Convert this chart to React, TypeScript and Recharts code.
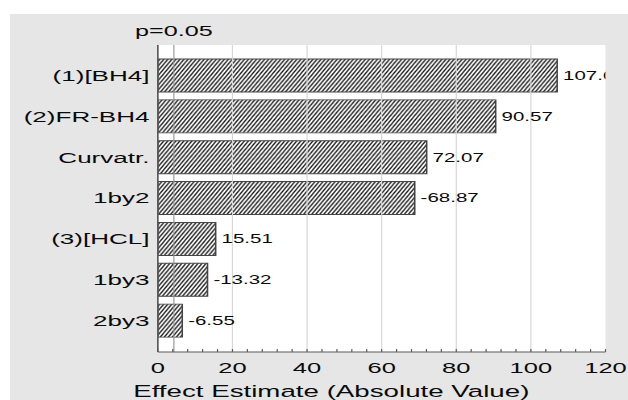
import React from 'react';
import {
  BarChart,
  Bar,
  XAxis,
  YAxis,
  ReferenceLine,
  CartesianGrid,
  LabelList,
  Label,
} from 'recharts';

// ---- data ----
const factors = ['(1)[BH4]', '(2)FR-BH4', 'Curvatr.', '1by2', '(3)[HCL]', '1by3', '2by3'];
const effects = [107.05, 90.57, 72.07, -68.87, 15.51, -13.32, -6.55];
const minorTicks = [0, 4, 8, 12, 16, 20, 24, 28, 32, 36, 40, 44, 48, 52, 56, 60, 64, 68, 72, 76, 80, 84, 88, 92, 96, 100, 104, 108, 112, 116, 120];
const gridValues = [20, 40, 60, 80, 100];
const frameTicks = [0, 1, 2, 3, 4, 5, 6, 7, 8, 9, 10, 11, 12, 13, 14];
const critValue = 4.303;
const critLabel = 'p=0.05';
const xTitle = 'Effect Estimate (Absolute Value)';

const data = factors.map((f, i) => ({ factor: f, abs: Math.abs(effects[i]), effect: effects[i] }));

// ---- layout ----
const S = 628 / 374; // horizontal stretch of the original picture
const W = 374;
const H = 400;
const MARGIN = { top: 45, right: 13.4, bottom: 0, left: 0 };
const Y_W = 94;
const X_H = 48;
const TICK_MARGIN = 10;
const PLOT = { x: MARGIN.left + Y_W, y: MARGIN.top, w: W - MARGIN.right - MARGIN.left - Y_W, h: H - MARGIN.top - MARGIN.bottom - X_H };

const FRAME = '#5a5a5a';
const INK = '#0a0a0a';

const renderXTick = (props: any) => {
  const { x, y, payload } = props;
  const v = payload.value;
  const axisY = y - TICK_MARGIN;
  return (
    <g>
      <line x1={x} x2={x} y1={axisY} y2={axisY - 3} stroke={FRAME} strokeWidth={0.7} />
      {v % 20 === 0 && (
        <text x={x} y={y} dy="0.71em" textAnchor="middle" fontSize={15.2} fill={INK}>
          {v}
        </text>
      )}
    </g>
  );
};

const renderTitle = (props: any) => {
  const vb = props.viewBox;
  return (
    <text x={vb.x + vb.width / 2 - 30} y={vb.y + vb.height - 2.5} textAnchor="middle" fontSize={16.5} fill={INK}>
      {xTitle}
    </text>
  );
};

const renderValue = (props: any) => {
  const { x, y, width, height, index } = props;
  const txt = effects[index].toFixed(2);
  return (
    <text
      x={x + width + 3.5}
      y={y + height / 2}
      dy="0.355em"
      fontSize={12.2}
      fill={INK}
      clipPath="url(#plotClip)"
    >
      {txt}
    </text>
  );
};

export default function App() {
  return (
    <div style={{ position: 'fixed', left: 0, top: 0, width: 628, height: 400, background: '#fff', overflow: 'hidden', fontFamily: '"Liberation Sans", Arial, sans-serif' }}>
      <div style={{ position: 'absolute', left: 10, top: 13.5, right: 0, bottom: 0, background: '#e6e6e6' }} />
      <div style={{ position: 'absolute', left: 0, top: 0, width: W, height: H, transform: `scaleX(${S})`, transformOrigin: '0 0' }}>
        <BarChart width={W} height={H} data={data} layout="vertical" margin={MARGIN} barSize={33}>
          <defs>
            <pattern id="hatch" patternUnits="userSpaceOnUse" width={2.4} height={4.8}>
              <rect x={0} y={0} width={2.4} height={4.8} fill="#fff" />
              <path d="M-0.6,1.2 l1.2,-2.4 M0,4.8 l2.4,-4.8 M1.8,6 l1.2,-2.4" stroke="#111" strokeWidth={0.95} />
            </pattern>
            <clipPath id="plotClip">
              <rect x={PLOT.x} y={PLOT.y} width={PLOT.w} height={PLOT.h} />
            </clipPath>
          </defs>
          <CartesianGrid fill="#fff" horizontal={false} vertical={false} />
          {gridValues.map((v) => (
            <ReferenceLine key={v} x={v} stroke="#d6d6d6" strokeWidth={0.7} />
          ))}
          <ReferenceLine
            x={critValue}
            stroke="#9a9a9a"
            strokeWidth={0.7}
            label={{ value: critLabel, position: 'top', offset: 8.5, fill: INK, fontSize: 15 }}
          />
          <XAxis
            type="number"
            domain={[0, 120]}
            ticks={minorTicks}
            interval={0}
            tickLine={false}
            tickSize={0}
            tickMargin={TICK_MARGIN}
            axisLine={{ stroke: FRAME, strokeWidth: 1 }}
            height={X_H}
            tick={renderXTick}
          >
            <Label content={renderTitle} />
          </XAxis>
          <XAxis
            xAxisId="top"
            orientation="top"
            type="number"
            domain={[0, 120]}
            ticks={minorTicks}
            interval={0}
            mirror
            height={0}
            tick={false}
            tickSize={3}
            tickLine={{ stroke: FRAME, strokeWidth: 0.7 }}
            axisLine={{ stroke: FRAME, strokeWidth: 1 }}
          />
          <YAxis
            type="category"
            dataKey="factor"
            width={Y_W}
            interval={0}
            padding={{ top: 10, bottom: 11 }}
            tickLine={false}
            tickSize={0}
            tickMargin={5}
            axisLine={{ stroke: FRAME, strokeWidth: 1 }}
            tick={{ fill: INK, fontSize: 15.5 }}
          />
          <YAxis
            yAxisId="frame"
            orientation="right"
            type="number"
            domain={[0, 14]}
            ticks={frameTicks}
            interval={0}
            padding={{ top: 10, bottom: 11 }}
            mirror
            width={0}
            tick={false}
            tickSize={1.8}
            tickLine={{ stroke: FRAME, strokeWidth: 1 }}
            axisLine={{ stroke: FRAME, strokeWidth: 1 }}
          />
          <Bar dataKey="abs" fill="url(#hatch)" stroke="#444" strokeWidth={0.9} isAnimationActive={false}>
            <LabelList dataKey="abs" content={renderValue} />
          </Bar>
        </BarChart>
      </div>
    </div>
  );
}
